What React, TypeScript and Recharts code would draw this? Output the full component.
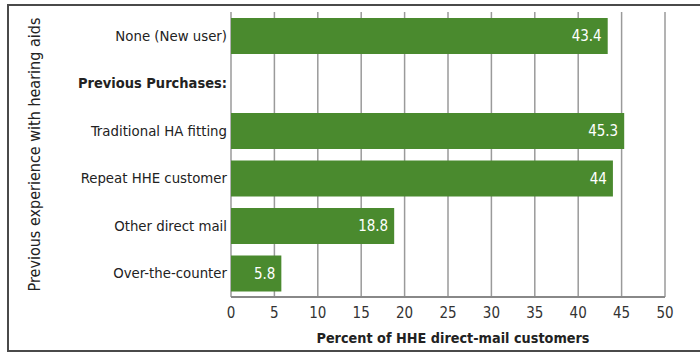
import React from 'react';
import { BarChart, Bar, XAxis, YAxis, CartesianGrid, LabelList } from 'recharts';

const categories = [
  'None (New user)',
  'Previous Purchases:',
  'Traditional HA fitting',
  'Repeat HHE customer',
  'Other direct mail',
  'Over-the-counter',
];
const values: (number | null)[] = [43.4, null, 45.3, 44, 18.8, 5.8];
const boldCategories = ['Previous Purchases:'];
const xTicks = [0, 5, 10, 15, 20, 25, 30, 35, 40, 45, 50];
const xAxisTitle = 'Percent of HHE direct-mail customers';
const yAxisTitle = 'Previous experience with hearing aids';

const data = categories.map((c, i) => ({ category: c, value: values[i] }));

const FONT = "'DejaVu Sans Condensed', 'Liberation Sans', Arial, sans-serif";
const BAR = '#4a8a2e';

const YTick = (props: any) => {
  const { x, y, payload } = props;
  const bold = boldCategories.includes(payload.value);
  return (
    <text
      x={x + 7}
      y={y}
      dy={5}
      textAnchor="end"
      fontFamily={FONT}
      fontSize={bold ? 14.5 : 14.8}
      fontWeight={bold ? 700 : 400}
      fill="#222"
    >
      {payload.value}
    </text>
  );
};

const XTick = (props: any) => {
  const { x, y, payload } = props;
  return (
    <text x={x} y={y} dy={13} textAnchor="middle" fontFamily={FONT} fontSize={15} fill="#333">
      {payload.value}
    </text>
  );
};

const YTitle = (props: any) => {
  const vb = props.viewBox || { x: 0, y: 10, width: 231, height: 287 };
  const cx = 34;
  const cy = vb.y + vb.height / 2;
  return (
    <text
      x={cx}
      y={cy}
      transform={`rotate(-90, ${cx}, ${cy})`}
      textAnchor="middle"
      dominantBaseline="central"
      fontFamily={FONT}
      fontSize={16}
      fill="#222"
    >
      {yAxisTitle}
    </text>
  );
};

const XTitle = (props: any) => {
  const vb = props.viewBox || { x: 231, y: 297, width: 434, height: 45 };
  const cx = vb.x + vb.width / 2 + 5;
  return (
    <text x={cx} y={343} textAnchor="middle" fontFamily={FONT} fontSize={14.3} fontWeight={700} fill="#222">
      {xAxisTitle}
    </text>
  );
};

export default function App() {
  return (
    <div style={{ position: 'absolute', left: 0, top: 0, width: 700, height: 354, overflow: 'hidden', background: '#fff' }}>
      <div
        style={{
          position: 'absolute',
          left: 7,
          top: 4,
          width: 700,
          height: 348,
          border: '2px solid #4a4a4a',
          boxSizing: 'border-box',
        }}
      />
      <div style={{ position: 'absolute', left: 0, top: 0 }}>
        <BarChart
          width={700}
          height={354}
          data={data}
          layout="vertical"
          margin={{ top: 12, right: 35, bottom: 12, left: 0 }}
          barSize={36}
        >
          <CartesianGrid horizontal={false} vertical={true} stroke="#9a9a9a" strokeWidth={1.5} />
          <XAxis
            type="number"
            domain={[0, 50]}
            ticks={xTicks}
            interval={0}
            height={45}
            tickLine={false}
            axisLine={{ stroke: '#888', strokeWidth: 2 }}
            tick={<XTick />}
            label={{ content: (p: any) => <XTitle {...p} /> }}
          />
          <YAxis
            type="category"
            dataKey="category"
            width={231}
            tickLine={false}
            axisLine={false}
            tickMargin={5}
            tick={<YTick />}
            interval={0}
            label={{ content: (p: any) => <YTitle {...p} /> }}
          />
          <Bar dataKey="value" fill={BAR} isAnimationActive={false}>
            <LabelList
              dataKey="value"
              position="insideRight"
              offset={6}
              fill="#ffffff"
              fontFamily={FONT}
              fontSize={15}
              formatter={(v: any) => (v == null ? '' : v)}
            />
          </Bar>
        </BarChart>
      </div>
    </div>
  );
}
